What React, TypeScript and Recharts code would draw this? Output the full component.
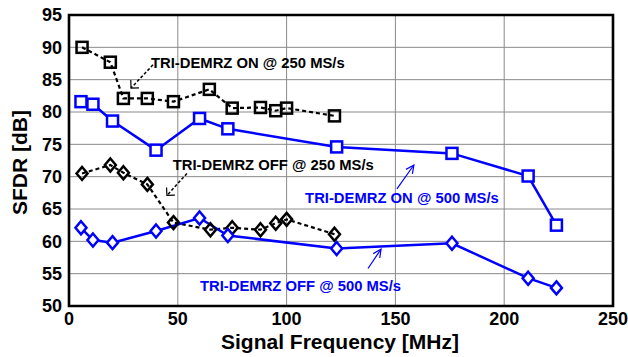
import React from 'react';
import { LineChart, Line, XAxis, YAxis, CartesianGrid, ReferenceArea, ReferenceLine, ReferenceDot, Label } from 'recharts';

const FONT = "'Liberation Sans', Arial, Helvetica, sans-serif";
const BLUE = '#0000ff';

// TRI-DEMRZ ON @ 250 MS/s (black, dashed, squares)
const freqOn250 = [6, 19, 25, 36, 48, 64.5, 75, 88, 95, 100, 122];
const sfdrOn250 = [90, 87.7, 82.1, 82.1, 81.6, 83.5, 80.6, 80.7, 80.2, 80.6, 79.4];

// TRI-DEMRZ OFF @ 250 MS/s (black, dashed, diamonds)
const freqOff250 = [6, 19, 25, 36, 48, 65, 75, 88, 95, 100, 122];
const sfdrOff250 = [70.5, 71.8, 70.6, 68.8, 62.9, 61.8, 62.1, 61.8, 62.8, 63.4, 61.1];

// TRI-DEMRZ ON @ 500 MS/s (blue, solid, squares)
const freqOn500 = [5.5, 11, 20, 40, 60, 73, 123, 176, 211, 224];
const sfdrOn500 = [81.6, 81.2, 78.6, 74.1, 79, 77.4, 74.6, 73.6, 70.1, 62.5];

// TRI-DEMRZ OFF @ 500 MS/s (blue, solid, diamonds)
const freqOff500 = [5.5, 11, 20, 40, 60, 73, 123, 176, 211, 224];
const sfdrOff500 = [62.1, 60.2, 59.8, 61.6, 63.6, 60.9, 58.9, 59.7, 54.3, 52.8];

const xTicks = [0, 50, 100, 150, 200, 250];
const yTicks = [50, 55, 60, 65, 70, 75, 80, 85, 90, 95];

// annotations, in data coordinates
const annoText = ['TRI-DEMRZ ON @ 250 MS/s', 'TRI-DEMRZ OFF @ 250 MS/s', 'TRI-DEMRZ ON @ 500 MS/s', 'TRI-DEMRZ OFF @ 500 MS/s'];
const annoAt = [[37.7, 87.6], [47.7, 71.8], [108.5, 66.7], [60.2, 53.2]];
const arrowFrom = [[38.6, 87.3], [54.2, 70.5], [150.7, 68.1], [137.4, 55.8]];
const arrowTo = [[28.5, 83.7], [45, 67.1], [158.5, 71.8], [143.4, 58.8]];
const annoBlue = [false, false, true, true];

const toPoints = (xs: number[], ys: number[]) => xs.map((x, i) => ({ x, y: ys[i] }));

const squareDot = (color: string, fill: string) => (p: any) => {
  const { cx, cy, index } = p;
  if (cx == null || cy == null) return <g key={index} />;
  return <rect key={index} x={cx - 5.5} y={cy - 5.5} width={11} height={11} fill={fill} stroke={color} strokeWidth={2.5} />;
};

const diamondDot = (color: string, fill: string) => (p: any) => {
  const { cx, cy, index } = p;
  if (cx == null || cy == null) return <g key={index} />;
  const d = `M${cx},${cy - 6.5} L${cx + 5.5},${cy} L${cx},${cy + 6.5} L${cx - 5.5},${cy} Z`;
  return <path key={index} d={d} fill={fill} stroke={color} strokeWidth={2.5} />;
};

const arrowShape = (blue: boolean) => (p: any) => {
  const { x1, y1, x2, y2 } = p;
  const color = blue ? BLUE : '#000';
  const back = Math.atan2(y1 - y2, x1 - x2);
  const spread = blue ? 0.45 : Math.PI / 4;
  const len = blue ? 9 : 8;
  const w1 = [x2 + len * Math.cos(back + spread), y2 + len * Math.sin(back + spread)];
  const w2 = [x2 + len * Math.cos(back - spread), y2 + len * Math.sin(back - spread)];
  return (
    <g>
      <line x1={x1} y1={y1} x2={x2} y2={y2} stroke={color} strokeWidth={blue ? 1.2 : 1.5} strokeDasharray={blue ? undefined : '3 2'} />
      <polyline points={`${w1[0]},${w1[1]} ${x2},${y2} ${w2[0]},${w2[1]}`} fill="none" stroke={color} strokeWidth={1.2} />
    </g>
  );
};

const annoLabel = (text: string, blue: boolean) => (p: any) => (
  <text x={p.cx} y={p.cy} dy="0.36em" textAnchor="start" fontFamily={FONT} fontWeight={700} fontSize={14.8} fill={blue ? BLUE : '#000'}>
    {text}
  </text>
);

const tickStyle = { fill: '#000', fontSize: 18, fontWeight: 700, fontFamily: FONT };

export default function App() {
  return (
    <div style={{ position: 'absolute', left: 0, top: 0, width: 628, height: 357, background: '#fff' }}>
      <LineChart width={628} height={357} margin={{ top: 15, right: 15, left: 9, bottom: 0 }}>
        <CartesianGrid stroke="#8a8a8a" strokeWidth={1} />
        <XAxis
          type="number"
          dataKey="x"
          domain={[0, 250]}
          ticks={xTicks}
          interval={0}
          height={51}
          tickLine={false}
          axisLine={false}
          tickSize={0}
          tickMargin={6}
          tick={tickStyle}
        >
          <Label
            content={(props: any) => {
              const vb = props.viewBox;
              return (
                <text x={vb.x + vb.width / 2 - 1} y={vb.y + vb.height - 8} textAnchor="middle" fontFamily={FONT} fontWeight={700} fontSize={21} fill="#000">
                  Signal Frequency [MHz]
                </text>
              );
            }}
          />
        </XAxis>
        <YAxis
          type="number"
          domain={[50, 95]}
          ticks={yTicks}
          interval={0}
          width={60}
          tickLine={false}
          axisLine={false}
          tickSize={0}
          tickMargin={7}
          tick={tickStyle}
        >
          <Label
            content={(props: any) => {
              const vb = props.viewBox;
              const x = vb.x + 18;
              const y = vb.y + vb.height / 2 + 2;
              return (
                <text x={x} y={y} transform={`rotate(-90, ${x}, ${y})`} textAnchor="middle" fontFamily={FONT} fontWeight={700} fontSize={21} fill="#000">
                  SFDR [dB]
                </text>
              );
            }}
          />
        </YAxis>
        <ReferenceArea x1={0} x2={250} y1={50} y2={95} fill="none" fillOpacity={0} stroke="#000" strokeWidth={2.6} ifOverflow="visible" />

        <Line
          data={toPoints(freqOn250, sfdrOn250)}
          dataKey="y"
          stroke="#000"
          strokeWidth={2.2}
          strokeDasharray="4 3"
          dot={squareDot('#000', 'none')}
          isAnimationActive={false}
        />
        <Line
          data={toPoints(freqOff250, sfdrOff250)}
          dataKey="y"
          stroke="#000"
          strokeWidth={2.2}
          strokeDasharray="4 3"
          dot={diamondDot('#000', 'none')}
          isAnimationActive={false}
        />
        <Line
          data={toPoints(freqOn500, sfdrOn500)}
          dataKey="y"
          stroke={BLUE}
          strokeWidth={2.5}
          dot={squareDot(BLUE, '#fff')}
          isAnimationActive={false}
        />
        <Line
          data={toPoints(freqOff500, sfdrOff500)}
          dataKey="y"
          stroke={BLUE}
          strokeWidth={2.5}
          dot={diamondDot(BLUE, '#fff')}
          isAnimationActive={false}
        />

        {annoText.map((t, i) => (
          <ReferenceLine
            key={`arrow-${i}`}
            segment={[
              { x: arrowFrom[i][0], y: arrowFrom[i][1] },
              { x: arrowTo[i][0], y: arrowTo[i][1] },
            ]}
            ifOverflow="visible"
            shape={arrowShape(annoBlue[i])}
          />
        ))}
        {annoText.map((t, i) => (
          <ReferenceDot
            key={`text-${i}`}
            x={annoAt[i][0]}
            y={annoAt[i][1]}
            r={1}
            ifOverflow="visible"
            shape={annoLabel(t, annoBlue[i])}
          />
        ))}
      </LineChart>
    </div>
  );
}
